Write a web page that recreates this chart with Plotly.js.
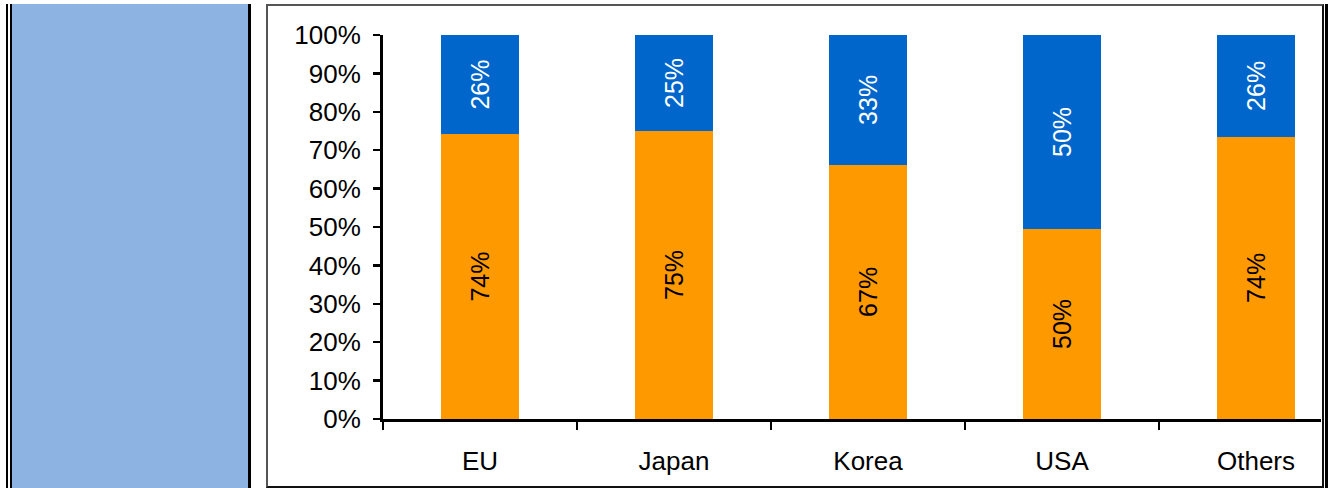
<!DOCTYPE html>
<html>
<head>
<meta charset="utf-8">
<script src="https://cdn.plot.ly/plotly-3.0.1.min.js"></script>
<style>
  html, body { margin: 0; padding: 0; background: #fff; }
  #wrap { position: relative; width: 1333px; height: 488px; overflow: hidden; }
  #chart { position: absolute; left: 0; top: 0; width: 1333px; height: 488px; }
  .deco { position: absolute; pointer-events: none; box-sizing: border-box; }
</style>
</head>
<body>
<div id="wrap">
  <div id="chart"></div>
  <div class="deco" style="left:6px;top:4px;width:2px;height:484px;background:#000;"></div>
  <div class="deco" style="left:10px;top:4px;width:2px;height:484px;background:#000;"></div>
  <div class="deco" style="left:12px;top:4px;width:236px;height:484px;background:#8DB3E2;"></div>
  <div class="deco" style="left:248px;top:4px;width:3px;height:484px;background:#000;"></div>
  <div class="deco" style="left:266px;top:4px;width:1058px;height:484px;border:2px solid #111;border-top-color:#555;border-left-color:#555;"></div>
  <div class="deco" style="left:1325px;top:4px;width:3px;height:484px;background:#000;"></div>
</div>
<script>
const categories = ["EU", "Japan", "Korea", "USA", "Others"];
const orangeValues = [74.2, 75.0, 66.2, 49.5, 73.5];
const blueValues = [25.8, 25.0, 33.8, 50.5, 26.5];
const orangeLabels = ["74%", "75%", "67%", "50%", "74%"];
const blueLabels = ["26%", "25%", "33%", "50%", "26%"];
const yTickValues = [0, 10, 20, 30, 40, 50, 60, 70, 80, 90, 100];
const yTickLabels = ["0%", "10%", "20%", "30%", "40%", "50%", "60%", "70%", "80%", "90%", "100%"];

const font = "Liberation Sans, Arial, sans-serif";
const fs = 26;
const barFs = 25;

const traces = [
  {
    type: "bar", x: categories, y: orangeValues, text: orangeLabels,
    textposition: "inside", insidetextanchor: "middle", textangle: -90,
    textfont: { family: font, size: barFs, color: "#000" },
    marker: { color: "#FF9900", line: { width: 0 } },
    hoverinfo: "none"
  },
  {
    type: "bar", x: categories, y: blueValues, text: blueLabels,
    textposition: "inside", insidetextanchor: "middle", textangle: -90,
    textfont: { family: font, size: barFs, color: "#fff" },
    marker: { color: "#0066CC", line: { width: 0 } },
    hoverinfo: "none"
  }
];

const layout = {
  width: 1333, height: 488,
  margin: { l: 383, r: 12, t: 35, b: 69, pad: 0 },
  barmode: "stack",
  bargap: 0.6,
  showlegend: false,
  paper_bgcolor: "#fff",
  plot_bgcolor: "#fff",
  font: { family: font, size: fs, color: "#000" },
  xaxis: {
    type: "category",
    range: [-0.5, 4.335],
    showline: true, linecolor: "#000", linewidth: 3,
    ticks: "outside", tickson: "boundaries", ticklen: 8, tickwidth: 2.5, tickcolor: "#000",
    ticklabelstandoff: 17,
    tickfont: { family: font, size: fs, color: "#000" },
    showgrid: false, zeroline: false, fixedrange: true
  },
  yaxis: {
    range: [0, 100],
    tickmode: "array",
    tickvals: yTickValues,
    ticktext: yTickLabels,
    showline: true, linecolor: "#000", linewidth: 3,
    ticks: "outside", ticklen: 7, tickwidth: 2.5, tickcolor: "#000",
    ticklabelstandoff: 7,
    tickfont: { family: font, size: fs, color: "#000" },
    showgrid: false, zeroline: false, fixedrange: true
  }
};

Plotly.newPlot("chart", traces, layout, { staticPlot: true, displayModeBar: false });
</script>
</body>
</html>
